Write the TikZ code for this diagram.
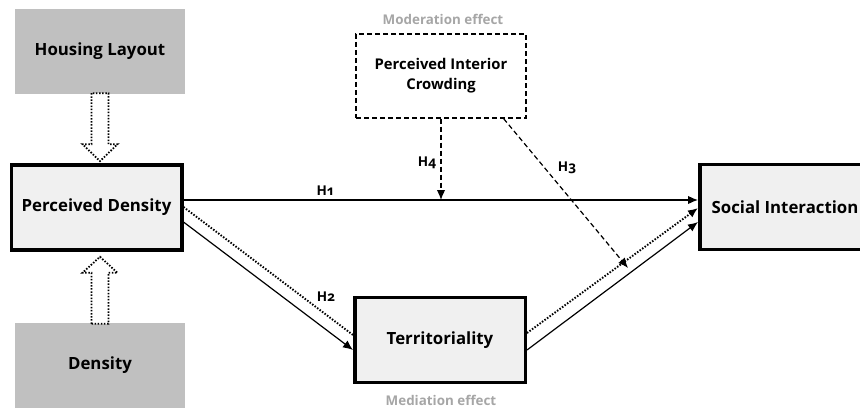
\documentclass[tikz,border=0pt]{standalone}
\usepackage{fontspec}
\setmainfont{Open Sans}
\newfontfamily\hfont[Numbers=OldStyle]{Open Sans}
\usetikzlibrary{arrows.meta,calc}
\definecolor{extgray}{HTML}{C0C0C0}
\definecolor{varfill}{HTML}{F0F0F0}
\definecolor{notegray}{HTML}{A6A6A6}
\begin{document}
\begin{tikzpicture}[x=1pt,y=-1pt,
  boxtext/.style={font=\bfseries\fontsize{16.8}{20}\selectfont, align=center, inner sep=0pt},
  extbox/.style={boxtext, fill=extgray, minimum width=170pt, minimum height=85pt},
  varbox/.style={boxtext, draw, line width=3.5pt, fill=varfill, minimum width=170.5pt, minimum height=85pt},
  modbox/.style={boxtext, draw, line width=1.3pt, dash pattern=on 5pt off 3pt, minimum width=170pt, minimum height=84pt, font=\bfseries\fontsize{14.8}{20}\selectfont},
  note/.style={font=\bfseries\fontsize{13.4}{16}\selectfont, text=notegray, inner sep=0pt},
  hlab/.style={font=\hfont\bfseries\fontsize{13.5}{16}\selectfont, inner sep=0pt},
  tip/.style={-{Latex[length=10pt,width=8.5pt]}},
  link/.style={line width=1.2pt, tip},
  dotlink/.style={line width=1.9pt, dash pattern=on 1.5pt off 1.6pt},
  modlink/.style={line width=1.2pt, dash pattern=on 5pt off 3pt, tip},
  hollow/.style={line width=1.8pt, dash pattern=on 1.5pt off 1.6pt, fill=white, line join=miter}
]
\useasboundingbox (0,0) rectangle (860,412);

\node[extbox] (hl) at (100,51.5) {Housing Layout};
\node[extbox] (dens) at (100,365.5) {Density};
\node[varbox] (pd) at (96.5,207.5) {Perceived Density};
\node[varbox] (terr) at (440,340) {Territoriality};
\node[varbox] (si) at (785,207) {Social Interaction};
\node[modbox] (pic) at (441,76) {Perceived Interior\\Crowding};
\node[note] (modlab) at (443,19) {Moderation effect};
\node[note] (medlab) at (441,400) {Mediation effect};

% hollow arrows
\draw[hollow] ([xshift=-8.5pt,yshift=1pt]hl.south) -- ++(0,51) -- ++(-9,0) -- ++(17.5,17) -- ++(17.5,-17) -- ++(-9,0) -- ++(0,-51) -- cycle;
\draw[hollow] ([xshift=-8.5pt,yshift=-1pt]dens.north) -- ++(0,-51) -- ++(-9,0) -- ++(17.5,-16) -- ++(17.5,16) -- ++(-9,0) -- ++(0,51) -- cycle;

% H1
\draw[link] ([yshift=7.5pt]pd.east) -- ([yshift=7pt]si.west);
\node[hlab] (h1) at (325,191) {H1};

% H2
\draw[link] ([yshift=-14.5pt]pd.east) -- ([yshift=-10pt]terr.west);
\draw[dotlink] ([yshift=0.5pt]pd.east) -- ([yshift=5pt]terr.west);
\node[hlab] (h2) at (326,297) {H2};

% Territoriality -> Social Interaction
\draw[link] ([yshift=-10pt]terr.east) -- ([yshift=-15pt]si.west);
\draw[dotlink, tip] ([yshift=7pt]terr.east) -- ([yshift=-1pt]si.west);

% H4
\coordinate (h4end) at (pic.south |- 0,200);
\draw[modlink] (pic.south) -- (h4end);
\node[hlab] (h4) at (427,163) {H4};

% H3
\coordinate (h3end) at (628,268);
\draw[modlink] ([xshift=-23pt]pic.south east) -- (h3end);
\node[hlab] (h3) at (567,168) {H3};
\end{tikzpicture}
\end{document}
